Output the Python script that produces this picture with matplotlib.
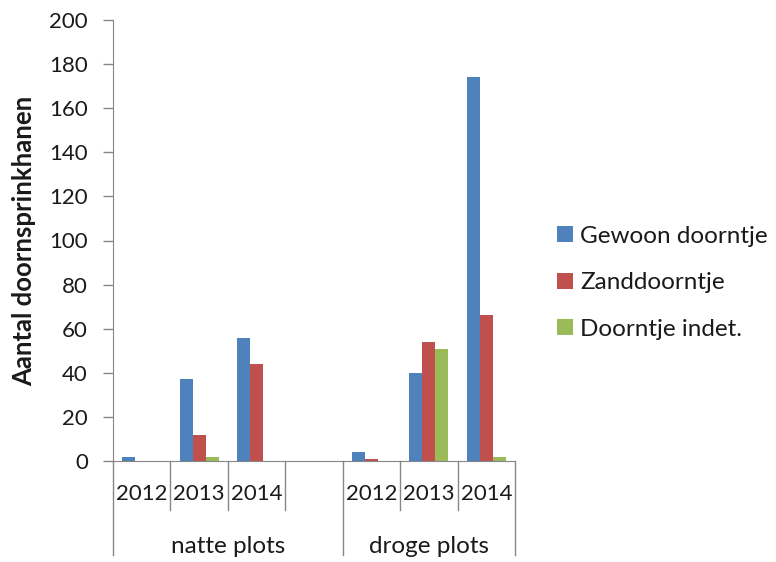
import matplotlib
matplotlib.use('Agg')
import matplotlib.pyplot as plt
import matplotlib.transforms as mtransforms
import numpy as np

plt.rcParams['font.family'] = ['Lato', 'DejaVu Sans']

# categorieen (lege plek tussen de twee groepen)
jaren = ['2012', '2013', '2014', '', '2012', '2013', '2014']
groepen = ['natte plots', 'droge plots']
groep_grenzen = [-0.5, 3.5, 6.5]
series = ['Gewoon doorntje', 'Zanddoorntje', 'Doorntje indet.']
gewoon = [2, 37, 56, 0, 4, 40, 174]
zand = [0, 12, 44, 0, 1, 54, 66]
indet = [0, 2, 0, 0, 0, 51, 2]
kleuren = ['#4F81BD', '#C0504D', '#9BBB59']
grijs = '#868686'
tekst = '#1a1a1a'

fig = plt.figure(figsize=(7.76, 5.62), dpi=100)
ax = fig.add_axes([113 / 776, 1 - 461 / 562, 402 / 776, 441 / 562])

x = np.arange(len(jaren))
w = 0.228
for i, (naam, vals, kl) in enumerate(zip(series, [gewoon, zand, indet], kleuren)):
    ax.bar(x + (i - 1) * w, vals, w, color=kl, label=naam, linewidth=0)

ax.set_xlim(-0.5, len(jaren) - 0.5)
ax.set_ylim(0, 200)
ax.set_yticks(range(0, 201, 20))
ax.tick_params(axis='y', length=7, width=1, color=grijs, labelsize=16, pad=11,
               labelcolor=tekst)
ax.set_xticks([])
for s in ['top', 'right']:
    ax.spines[s].set_visible(False)
ax.spines['left'].set_color(grijs)
ax.spines['bottom'].set_color(grijs)

# meerniveau categorie-as
trans = mtransforms.blended_transform_factory(ax.transData, ax.transAxes)
for k in range(len(jaren) + 1):
    xs = k - 0.5
    lang = xs in groep_grenzen
    ax.plot([xs, xs], [0, -0.213 if lang else -0.111], color=grijs, lw=1,
            transform=trans, clip_on=False)
for k, j in enumerate(jaren):
    ax.text(k, -0.075, j, transform=trans, ha='center', va='center', fontsize=16,
            color=tekst)
for g, (a, b) in zip(groepen, zip(groep_grenzen[:-1], groep_grenzen[1:])):
    ax.text((a + b) / 2, -0.195, g, transform=trans, ha='center', va='center',
            fontsize=17.5, color=tekst)

ax.set_ylabel('Aantal doornsprinkhanen', fontsize=18.5, fontweight='bold', color=tekst)
ax.yaxis.set_label_coords(-0.19, 0.5)

ax.legend(loc='center left', bbox_to_anchor=(1.05, 0.404), frameon=False, fontsize=17.5,
          handlelength=0.65, handleheight=0.65, handletextpad=0.3, labelspacing=1.05,
          labelcolor=tekst)

fig.savefig('out.png', dpi=100)
